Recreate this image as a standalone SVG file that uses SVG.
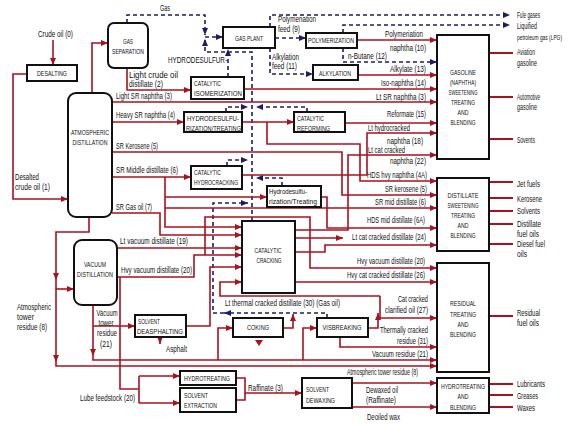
<svg xmlns="http://www.w3.org/2000/svg" width="578" height="445" viewBox="0 0 578 445">
<defs>
<marker id="ar" markerWidth="7" markerHeight="6" refX="7" refY="3" orient="auto" markerUnits="userSpaceOnUse"><path d="M0,0L7,3L0,6z" fill="#a8121f"/></marker>
<marker id="an" markerWidth="7" markerHeight="6" refX="7" refY="3" orient="auto" markerUnits="userSpaceOnUse"><path d="M0,0L7,3L0,6z" fill="#1c1c6b"/></marker>
</defs>
<style>
.box{fill:#fff;stroke:#111;stroke-width:2}
.r{fill:none;stroke:#a8121f;stroke-width:1.6}
.ra{fill:none;stroke:#a8121f;stroke-width:1.6;marker-end:url(#ar)}
.p{fill:none;stroke:#a8121f;stroke-width:2}
.da{fill:none;stroke:#1c1c6b;stroke-width:1.6;stroke-dasharray:4 3;marker-end:url(#an)}
text{font-family:"Liberation Sans Narrow","Liberation Sans",Arial,sans-serif;font-size:8.2px;fill:#111}
.n text{font-size:7.8px}
.c{text-anchor:middle}
.sm{font-size:6.6px}
</style>
<rect width="578" height="445" fill="#fff"/>

<!-- process flow lines -->
<g id="connectors">
  <!-- gas lines -->
  <path class="da" d="M127,23V15H205V35"/>
  <path class="da" d="M252,221V52H205V39"/>
  <path class="da" d="M205,37H223"/>
  <path class="da" d="M228,77V49"/>
  <path class="da" d="M226,112V107H248"/>
  <path class="da" d="M307,112V107H256"/>
  <path class="da" d="M227,166V160H248"/>
  <path class="da" d="M282,186V178H256"/>
  <path class="da" d="M327,318V313H224"/>
  <path class="da" d="M224,313H213V203H248"/>
  <path class="da" d="M270,27V15H510"/>
  <path class="da" d="M275,38H306"/>
  <path class="da" d="M270,48V74H313"/>
  <path class="da" d="M343,33V25H510"/>
  <path class="da" d="M343,48V62H437"/>

  <!-- liquid lines -->
  <path class="ra" d="M53,40V65"/>
  <path class="ra" d="M27,74H13V199H68"/>
  <path class="ra" d="M92,93V43H108"/>
  <path class="ra" d="M127,68V90H191"/>
  <path class="ra" d="M112,102H437"/>
  <path class="ra" d="M244,89H437"/>
  <path class="ra" d="M112,122H184"/>
  <path class="ra" d="M242,122H294"/>
  <path class="ra" d="M267,122V144H360V181H437"/>
  <path class="ra" d="M345,123H437"/>
  <path class="ra" d="M357,40H437"/>
  <path class="ra" d="M358,75H437"/>
  <path class="ra" d="M242,175H367V133H437"/>
  <path class="ra" d="M112,152H342V195H437"/>
  <path class="ra" d="M295,230H348V155H437"/>
  <path class="ra" d="M112,177H191"/>
  <path class="ra" d="M165,177V227H242"/>
  <path class="ra" d="M165,197H267"/>
  <path class="ra" d="M165,208H437"/>
  <path class="ra" d="M112,213H160V235H242"/>
  <path class="ra" d="M321,197H327V228H437"/>
  <path class="ra" d="M295,252H325V245H437"/>
  <path class="ra" d="M295,238H343"/>
  <path class="ra" d="M117,248H242"/>
  <path class="ra" d="M117,277H194V255H242"/>
  <path class="ra" d="M205,255V217H310V268H437"/>
  <path class="ra" d="M295,282H437"/>
  <path class="ra" d="M89,217V232H56V280"/>
  <path class="ra" d="M56,280V362"/>
  <path class="ra" d="M56,362V366H437"/>
  <path class="ra" d="M56,289H74"/>
  <path class="ra" d="M93,305V356"/>
  <path class="ra" d="M93,356V360H437"/>
  <path class="ra" d="M93,326H135"/>
  <path class="ra" d="M218,360V328H233"/>
  <path class="ra" d="M303,360V328H317"/>
  <path class="r" d="M120,277V389H139M139,376V403"/>
  <path class="ra" d="M139,376H180"/>
  <path class="ra" d="M139,403H180"/>
  <path class="r" d="M236,378H245V400H236"/>
  <path class="ra" d="M245,393H302"/>
  <path class="ra" d="M352,383H437"/>
  <path class="ra" d="M352,407H437"/>
  <path class="ra" d="M186,326H210V267H242"/>
  <path class="ra" d="M160,337V344"/>
  <polygon points="255,340 263,340 259,346" fill="#a8121f"/>
  <path class="ra" d="M283,328H293V314"/>
  <path class="ra" d="M368,328H378V313"/>
  <path class="ra" d="M380,296H220V282H242"/>
  <path class="ra" d="M380,296V318H437"/>
  <path class="ra" d="M340,337V347H437"/>
  <!-- product lines -->
  <path class="p" d="M489,53H513M489,97H513M489,139H513M489,182H513M489,198H513M489,211H513M489,224H513M489,244H513M489,316H513M489,384H513M489,395H513M489,407H513"/>
</g>

<g class="n">
<g id="desalting"><rect class="box" x="27" y="65" width="50" height="16"/><text class="c" x="52" y="76" textLength="30" lengthAdjust="spacingAndGlyphs">DESALTING</text></g>
<g id="gas-separation"><rect class="box" x="108" y="23" width="40" height="45" rx="6"/><text class="c" x="128" y="44" textLength="10" lengthAdjust="spacingAndGlyphs">GAS</text><text class="c" x="128" y="54" textLength="32" lengthAdjust="spacingAndGlyphs">SEPARATION</text></g>
<g id="atmospheric-distillation"><rect class="box" x="68" y="93" width="44" height="124" rx="8"/><text class="c" x="90" y="135" textLength="38" lengthAdjust="spacingAndGlyphs">ATMOSPHERIC</text><text class="c" x="90" y="145" textLength="35" lengthAdjust="spacingAndGlyphs">DISTILLATION</text></g>
<g id="vacuum-distillation"><rect class="box" x="74" y="240" width="43" height="65" rx="8"/><text class="c" x="95" y="267" textLength="22" lengthAdjust="spacingAndGlyphs">VACUUM</text><text class="c" x="95" y="277" textLength="36" lengthAdjust="spacingAndGlyphs">DISTILLATION</text></g>
<g id="gas-plant"><rect class="box" x="223" y="27" width="52" height="21"/><text class="c" x="249" y="41" textLength="28" lengthAdjust="spacingAndGlyphs">GAS PLANT</text></g>
<g id="isomerization"><rect class="box" x="191" y="77" width="53" height="22"/><text x="194" y="86" textLength="27" lengthAdjust="spacingAndGlyphs">CATALYTIC</text><text x="194" y="96" textLength="48" lengthAdjust="spacingAndGlyphs">ISOMERIZATION</text></g>
<g id="hydrodesulfurization"><rect class="box" x="184" y="112" width="58" height="20"/><text x="187" y="121" textLength="52" lengthAdjust="spacingAndGlyphs">HYDRODESULFU-</text><text x="186" y="131" textLength="55" lengthAdjust="spacingAndGlyphs">RIZATION/TREATING</text></g>
<g id="polymerization"><rect class="box" x="306" y="33" width="51" height="15"/><text class="c" x="331" y="43" textLength="46" lengthAdjust="spacingAndGlyphs">POLYMERIZATION</text></g>
<g id="alkylation"><rect class="box" x="313" y="65" width="45" height="15"/><text class="c" x="335" y="76" textLength="32" lengthAdjust="spacingAndGlyphs">ALKYLATION</text></g>
<g id="reforming"><rect class="box" x="294" y="112" width="51" height="20"/><text x="297" y="121" textLength="27" lengthAdjust="spacingAndGlyphs">CATALYTIC</text><text x="297" y="131" textLength="33" lengthAdjust="spacingAndGlyphs">REFORMING</text></g>
<g id="hydrocracking"><rect class="box" x="191" y="166" width="51" height="23"/><text x="194" y="175" textLength="27" lengthAdjust="spacingAndGlyphs">CATALYTIC</text><text x="194" y="185" textLength="44" lengthAdjust="spacingAndGlyphs">HYDROCRACKING</text></g>
<g id="hydrotreating-middle"><rect class="box" x="267" y="186" width="54" height="21"/><text x="269" y="194" textLength="38" lengthAdjust="spacingAndGlyphs">Hydrodesulfu-</text><text x="269" y="204" textLength="48" lengthAdjust="spacingAndGlyphs">rization/Treating</text></g>
<g id="catalytic-cracking"><rect class="box" x="242" y="221" width="53" height="72"/><text class="c" x="268" y="253" textLength="27" lengthAdjust="spacingAndGlyphs">CATALYTIC</text><text class="c" x="269" y="263" textLength="25" lengthAdjust="spacingAndGlyphs">CRACKING</text></g>
<g id="deasphalting"><rect class="box" x="135" y="315" width="51" height="22"/><text x="138" y="324" textLength="22" lengthAdjust="spacingAndGlyphs">SOLVENT</text><text x="137" y="334" textLength="46" lengthAdjust="spacingAndGlyphs">DEASPHALTING</text></g>
<g id="coking"><rect class="box" x="233" y="318" width="50" height="19"/><text class="c" x="258" y="330" textLength="22" lengthAdjust="spacingAndGlyphs">COKING</text></g>
<g id="visbreaking"><rect class="box" x="317" y="318" width="51" height="19"/><text class="c" x="342" y="330" textLength="39" lengthAdjust="spacingAndGlyphs">VISBREAKING</text></g>
<g id="hydrotreating-lube"><rect class="box" x="180" y="371" width="56" height="14"/><text x="184" y="381" textLength="46" lengthAdjust="spacingAndGlyphs">HYDROTREATING</text></g>
<g id="solvent-extraction"><rect class="box" x="180" y="388" width="56" height="24"/><text x="184" y="398" textLength="24" lengthAdjust="spacingAndGlyphs">SOLVENT</text><text x="184" y="408" textLength="33" lengthAdjust="spacingAndGlyphs">EXTRACTION</text></g>
<g id="dewaxing"><rect class="box" x="302" y="378" width="50" height="30"/><text x="306" y="392" textLength="23" lengthAdjust="spacingAndGlyphs">SOLVENT</text><text x="306" y="403" textLength="29" lengthAdjust="spacingAndGlyphs">DEWAXING</text></g>
<g id="gasoline-blending"><rect class="box" x="437" y="35" width="52" height="124"/><text class="c" x="463" y="75" textLength="26" lengthAdjust="spacingAndGlyphs">GASOLINE</text><text class="c" x="463" y="85" textLength="26" lengthAdjust="spacingAndGlyphs">(NAPHTHA)</text><text class="c" x="463" y="95" textLength="29" lengthAdjust="spacingAndGlyphs">SWEETENING</text><text class="c" x="463" y="105" textLength="24" lengthAdjust="spacingAndGlyphs">TREATING</text><text class="c" x="463" y="115" textLength="11" lengthAdjust="spacingAndGlyphs">AND</text><text class="c" x="463" y="125" textLength="25" lengthAdjust="spacingAndGlyphs">BLENDING</text></g>
<g id="distillate-blending"><rect class="box" x="437" y="178" width="52" height="73"/><text class="c" x="463" y="198" textLength="31" lengthAdjust="spacingAndGlyphs">DISTILLATE</text><text class="c" x="463" y="208" textLength="31" lengthAdjust="spacingAndGlyphs">SWEETENING</text><text class="c" x="463" y="218" textLength="24" lengthAdjust="spacingAndGlyphs">TREATING</text><text class="c" x="463" y="228" textLength="11" lengthAdjust="spacingAndGlyphs">AND</text><text class="c" x="463" y="238" textLength="25" lengthAdjust="spacingAndGlyphs">BLENDING</text></g>
<g id="residual-blending"><rect class="box" x="437" y="263" width="52" height="109"/><text class="c" x="463" y="306" textLength="26" lengthAdjust="spacingAndGlyphs">RESIDUAL</text><text class="c" x="463" y="317" textLength="26" lengthAdjust="spacingAndGlyphs">TREATING</text><text class="c" x="463" y="327" textLength="11" lengthAdjust="spacingAndGlyphs">AND</text><text class="c" x="463" y="337" textLength="26" lengthAdjust="spacingAndGlyphs">BLENDING</text></g>
<g id="lube-blending"><rect class="box" x="437" y="378" width="52" height="35"/><text class="c" x="463" y="389" textLength="44" lengthAdjust="spacingAndGlyphs">HYDROTREATING</text><text class="c" x="463" y="399" textLength="11" lengthAdjust="spacingAndGlyphs">AND</text><text class="c" x="463" y="410" textLength="26" lengthAdjust="spacingAndGlyphs">BLENDING</text></g>
</g>

<!-- stream labels -->
<g id="labels">
<text x="38" y="37" textLength="35" lengthAdjust="spacingAndGlyphs">Crude oil (0)</text>
<text x="160" y="11" textLength="10" lengthAdjust="spacingAndGlyphs">Gas</text>
<text x="129" y="78" textLength="49" lengthAdjust="spacingAndGlyphs">Light crude oil</text>
<text x="129" y="87" textLength="34" lengthAdjust="spacingAndGlyphs">distillate (2)</text>
<text x="116" y="99" textLength="56" lengthAdjust="spacingAndGlyphs">Light SR naphtha (3)</text>
<text x="116" y="118" textLength="59" lengthAdjust="spacingAndGlyphs">Heavy SR naphtha (4)</text>
<text x="116" y="149" textLength="42" lengthAdjust="spacingAndGlyphs">SR Kerosene (5)</text>
<text x="116" y="173" textLength="62" lengthAdjust="spacingAndGlyphs">SR Middle distillate (6)</text>
<text x="116" y="210" textLength="36" lengthAdjust="spacingAndGlyphs">SR Gas oil (7)</text>
<text x="120" y="244" textLength="68" lengthAdjust="spacingAndGlyphs">Lt vacuum distillate (19)</text>
<text x="121" y="273" textLength="71" lengthAdjust="spacingAndGlyphs">Hvy vacuum distillate (20)</text>
<text x="15" y="180" textLength="24" lengthAdjust="spacingAndGlyphs">Desalted</text>
<text x="15" y="190" textLength="35" lengthAdjust="spacingAndGlyphs">crude oil (1)</text>
<text x="168" y="63" textLength="59" lengthAdjust="spacingAndGlyphs">HYDRODESULFUR-</text>
<text x="278" y="22" textLength="38" lengthAdjust="spacingAndGlyphs">Polymeriation</text>
<text x="278" y="32" textLength="22" lengthAdjust="spacingAndGlyphs">feed (9)</text>
<text x="272" y="60" textLength="27" lengthAdjust="spacingAndGlyphs">Alkylation</text>
<text x="272" y="69" textLength="25" lengthAdjust="spacingAndGlyphs">feed (11)</text>
<text x="348" y="59" textLength="39" lengthAdjust="spacingAndGlyphs">n-Butane (12)</text>
<text x="385" y="37" textLength="38" lengthAdjust="spacingAndGlyphs">Polymeriation</text>
<text x="390" y="51" textLength="36" lengthAdjust="spacingAndGlyphs">naphtha (10)</text>
<text x="390" y="72" textLength="36" lengthAdjust="spacingAndGlyphs">Alkylate (13)</text>
<text x="381" y="86" textLength="45" lengthAdjust="spacingAndGlyphs">Iso-naphtha (14)</text>
<text x="376" y="100" textLength="50" lengthAdjust="spacingAndGlyphs">Lt SR naphtha (3)</text>
<text x="387" y="117" textLength="39" lengthAdjust="spacingAndGlyphs">Reformate (15)</text>
<text x="368" y="131" textLength="42" lengthAdjust="spacingAndGlyphs">Lt hydrocracked</text>
<text x="387" y="144" textLength="36" lengthAdjust="spacingAndGlyphs">naphtha (18)</text>
<text x="368" y="153" textLength="37" lengthAdjust="spacingAndGlyphs">Lt cat cracked</text>
<text x="390" y="164" textLength="36" lengthAdjust="spacingAndGlyphs">naphtha (22)</text>
<text x="367" y="178" textLength="60" lengthAdjust="spacingAndGlyphs">HDS hvy naphtha (4A)</text>
<text x="385" y="192" textLength="42" lengthAdjust="spacingAndGlyphs">SR kerosene (5)</text>
<text x="375" y="205" textLength="51" lengthAdjust="spacingAndGlyphs">SR mid distillate (6)</text>
<text x="367" y="223" textLength="58" lengthAdjust="spacingAndGlyphs">HDS mid distillate (6A)</text>
<text x="352" y="240" textLength="74" lengthAdjust="spacingAndGlyphs">Lt cat cracked distillate (24)</text>
<text x="357" y="264" textLength="68" lengthAdjust="spacingAndGlyphs">Hvy vacuum distillate (20)</text>
<text x="347" y="278" textLength="78" lengthAdjust="spacingAndGlyphs">Hvy cat cracked distillate (26)</text>
<text x="225" y="306" textLength="115" lengthAdjust="spacingAndGlyphs">Lt thermal cracked distillate (30) (Gas oil)</text>
<text x="398" y="302" textLength="30" lengthAdjust="spacingAndGlyphs">Cat cracked</text>
<text x="385" y="313" textLength="43" lengthAdjust="spacingAndGlyphs">clarified oil (27)</text>
<text x="380" y="333" textLength="48" lengthAdjust="spacingAndGlyphs">Thermally cracked</text>
<text x="397" y="344" textLength="31" lengthAdjust="spacingAndGlyphs">residue (31)</text>
<text x="372" y="357" textLength="56" lengthAdjust="spacingAndGlyphs">Vacuum residue (21)</text>
<text x="347" y="375" textLength="71" lengthAdjust="spacingAndGlyphs">Atmospheric tower residue (8)</text>
<text x="166" y="352" textLength="21" lengthAdjust="spacingAndGlyphs">Asphalt</text>
<text x="17" y="310" textLength="34" lengthAdjust="spacingAndGlyphs">Atmospheric</text>
<text x="17" y="320" textLength="17" lengthAdjust="spacingAndGlyphs">tower</text>
<text x="17" y="330" textLength="30" lengthAdjust="spacingAndGlyphs">residue (8)</text>
<text class="c" x="107" y="316" textLength="21" lengthAdjust="spacingAndGlyphs">Vacuum</text>
<text class="c" x="106" y="326" textLength="15" lengthAdjust="spacingAndGlyphs">tower</text>
<text class="c" x="107" y="336" textLength="20" lengthAdjust="spacingAndGlyphs">residue</text>
<text class="c" x="106" y="347" textLength="12" lengthAdjust="spacingAndGlyphs">(21)</text>
<text x="80" y="401" textLength="55" lengthAdjust="spacingAndGlyphs">Lube feedstock (20)</text>
<text x="248" y="391" textLength="35" lengthAdjust="spacingAndGlyphs">Raffinate (3)</text>
<text x="366" y="393" textLength="32" lengthAdjust="spacingAndGlyphs">Dewaxed oil</text>
<text x="366" y="403" textLength="30" lengthAdjust="spacingAndGlyphs">(Raffinate)</text>
<text x="367" y="420" textLength="33" lengthAdjust="spacingAndGlyphs">Deoiled wax</text>
<text x="517" y="18" textLength="23" lengthAdjust="spacingAndGlyphs">Fule gases</text>
<text x="517" y="29" textLength="20" lengthAdjust="spacingAndGlyphs">Liquified</text>
<text class="sm" x="517" y="40" textLength="45" lengthAdjust="spacingAndGlyphs">petroleum gas (LPG)</text>
<text x="517" y="55" textLength="18" lengthAdjust="spacingAndGlyphs">Aviation</text>
<text x="517" y="66" textLength="20" lengthAdjust="spacingAndGlyphs">gasoline</text>
<text x="517" y="100" textLength="23" lengthAdjust="spacingAndGlyphs">Automotive</text>
<text x="517" y="110" textLength="20" lengthAdjust="spacingAndGlyphs">gasoline</text>
<text x="517" y="143" textLength="18" lengthAdjust="spacingAndGlyphs">Sovents</text>
<text x="517" y="187" textLength="23" lengthAdjust="spacingAndGlyphs">Jet fuels</text>
<text x="517" y="202" textLength="25" lengthAdjust="spacingAndGlyphs">Kerosene</text>
<text x="517" y="214" textLength="23" lengthAdjust="spacingAndGlyphs">Solvents</text>
<text x="517" y="227" textLength="24" lengthAdjust="spacingAndGlyphs">Distillate</text>
<text x="517" y="237" textLength="22" lengthAdjust="spacingAndGlyphs">fuel oils</text>
<text x="517" y="247" textLength="28" lengthAdjust="spacingAndGlyphs">Diesel fuel</text>
<text x="517" y="257" textLength="10" lengthAdjust="spacingAndGlyphs">oils</text>
<text x="517" y="316" textLength="23" lengthAdjust="spacingAndGlyphs">Residual</text>
<text x="517" y="326" textLength="22" lengthAdjust="spacingAndGlyphs">fuel oils</text>
<text x="517" y="387" textLength="28" lengthAdjust="spacingAndGlyphs">Lubricants</text>
<text x="517" y="399" textLength="21" lengthAdjust="spacingAndGlyphs">Greases</text>
<text x="517" y="411" textLength="18" lengthAdjust="spacingAndGlyphs">Waxes</text>
</g>
</svg>
